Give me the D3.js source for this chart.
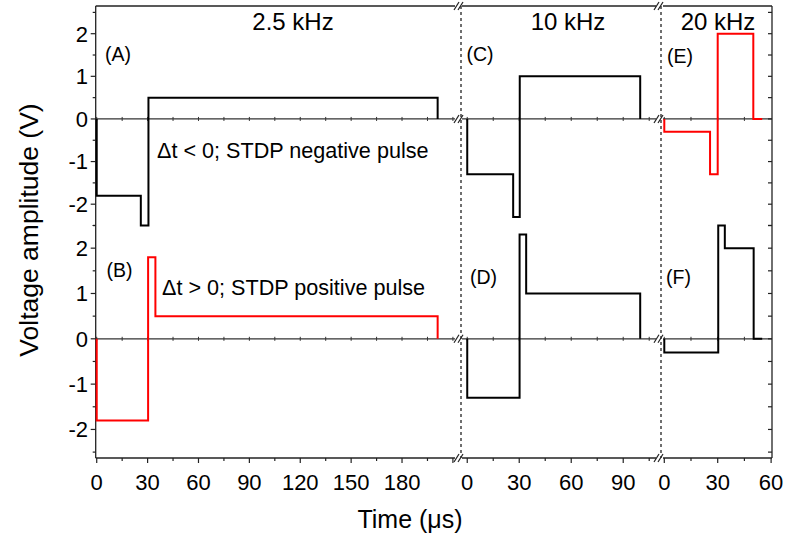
<!DOCTYPE html>
<html>
<head>
<meta charset="utf-8">
<script src="https://cdn.jsdelivr.net/npm/d3@7"></script>
<style>
  html, body { margin: 0; padding: 0; background: #fff; }
  svg { display: block; font-family: "Liberation Sans", Arial, sans-serif; }
</style>
</head>
<body>
<svg id="chart" width="789" height="543"></svg>
<script>
// ---------- data ----------
const segmentTitles = ["2.5 kHz", "10 kHz", "20 kHz"];
const xTicks1 = [0, 30, 60, 90, 120, 150, 180];
const xTicks2 = [0, 30, 60, 90];
const xTicks3 = [0, 30, 60];
const yTicks = [-2, -1, 0, 1, 2];
const panelLabels = ["(A)", "(B)", "(C)", "(D)", "(E)", "(F)"];
const noteNegative = "\u0394t < 0; STDP negative pulse";
const notePositive = "\u0394t > 0; STDP positive pulse";

// waveforms: time (µs) and voltage (V) at each step (step-after)
const timeA = [0, 0, 26, 30.5, 201];
const voltA = [0, -1.8, -2.5, 0.5, 0];
const timeB = [0, 0, 30.3, 34.6, 201];
const voltB = [0, -1.8, 1.8, 0.5, 0];
const timeC = [0, 0, 26.5, 30.3, 99.8];
const voltC = [0, -1.3, -2.3, 1.0, 0];
const timeD = [0, 0, 30.2, 34, 99.8];
const voltD = [0, -1.3, 2.3, 1.0, 0];
const timeE = [0, 0, 25.7, 30, 50, 55];
const voltE = [0, -0.3, -1.3, 2.0, 0, 0];
const timeF = [0, 0, 30.3, 34, 50.2, 55];
const voltF = [0, -0.3, 2.5, 2.0, 0, 0];

(function () {
// ---------- layout ----------
const svg = d3.select("#chart");
const pLeft = 95.7, pRight = 772, pTop = 6, pMid = 225.5, pBottom = 458;
const black = "#000", red = "#ff0000";

const xs = [
  d3.scaleLinear().domain([-0.6, 213]).range([pLeft, 458]),
  d3.scaleLinear().domain([-3.6, 111.8]).range([461, 661]),
  d3.scaleLinear().domain([-1.85, 60.5]).range([661, pRight])
];
const xTickSets = [xTicks1, xTicks2, xTicks3];
const yUp = d3.scaleLinear().domain([-2.5, 2.65]).range([pMid, pTop]);
const yLo = d3.scaleLinear().domain([-2.63, 2.5]).range([pBottom, pMid]);

const g = svg.append("g");

// dotted break lines
[461, 661].forEach(x => {
  g.append("line").attr("x1", x).attr("x2", x).attr("y1", pTop).attr("y2", pBottom)
    .attr("stroke", "#333").attr("stroke-width", 1.4).attr("stroke-dasharray", "3,3");
});

// zero lines per segment with ticks
const segEnds = [[pLeft, 455], [462, 656], [663, pRight]];
[yUp, yLo].forEach(ys => {
  const y0 = ys(0);
  segEnds.forEach(([a, b], i) => {
    g.append("line").attr("x1", a).attr("x2", b).attr("y1", y0).attr("y2", y0)
      .attr("stroke", "#333").attr("stroke-width", 1.2);
    const dom = xs[i].domain();
    d3.range(0, dom[1] + 0.01, 15).forEach(t => {
      const x = xs[i](t);
      if (x > b - 1) return;
      g.append("line").attr("x1", x).attr("x2", x).attr("y1", y0 - 2).attr("y2", y0 + 2)
        .attr("stroke", "#333").attr("stroke-width", 1);
    });
  });
});

// frame: top line segments, bottom axis segments
segEnds.forEach(([a, b]) => {
  g.append("line").attr("x1", a).attr("x2", b).attr("y1", pTop).attr("y2", pTop)
    .attr("stroke", "#222").attr("stroke-width", 1.3);
  g.append("line").attr("x1", a).attr("x2", b).attr("y1", pBottom).attr("y2", pBottom)
    .attr("stroke", "#222").attr("stroke-width", 1.3);
});
// left and right axes
g.append("line").attr("x1", pLeft).attr("x2", pLeft).attr("y1", pTop).attr("y2", pBottom)
  .attr("stroke", "#222").attr("stroke-width", 1.3);
g.append("line").attr("x1", pRight).attr("x2", pRight).attr("y1", pTop).attr("y2", pBottom)
  .attr("stroke", "#222").attr("stroke-width", 1.3);

// break marks "//"
function breakMark(x, y) {
  [-2, 2].forEach(dx => {
    g.append("line").attr("x1", x + dx - 2.5).attr("y1", y + 4).attr("x2", x + dx + 2.5).attr("y2", y - 4)
      .attr("stroke", "#222").attr("stroke-width", 1.2);
  });
}
[458.5, 658.5].forEach(x => {
  [pTop, yUp(0), yLo(0), pBottom].forEach(y => breakMark(x, y));
});

// y axes ticks (left outward, right inward) for both panels
[yUp, yLo].forEach(ys => {
  const dom = ys.domain();
  d3.range(-2.5, 2.51, 0.5).forEach(v => {
    if (v < dom[0] - 0.01 || v > dom[1] + 0.01) return;
    const y = ys(v);
    const major = Number.isInteger(v);
    g.append("line").attr("x1", pLeft - (major ? 5 : 3)).attr("x2", pLeft).attr("y1", y).attr("y2", y)
      .attr("stroke", "#222").attr("stroke-width", 1.2);
    g.append("line").attr("x1", pRight - 4).attr("x2", pRight).attr("y1", y).attr("y2", y)
      .attr("stroke", "#222").attr("stroke-width", 1.2);
  });
  yTicks.forEach(v => {
    g.append("text").attr("x", 88).attr("y", ys(v)).attr("dy", "0.36em")
      .attr("text-anchor", "end").attr("font-size", 22).attr("fill", "#000").text(v);
  });
});

// x axis ticks and labels
xs.forEach((xsc, i) => {
  const dom = xsc.domain();
  d3.range(0, dom[1] + 0.01, 15).forEach(t => {
    const x = xsc(t);
    const major = t % 30 === 0;
    g.append("line").attr("x1", x).attr("x2", x).attr("y1", pBottom).attr("y2", pBottom + (major ? 5 : 3))
      .attr("stroke", "#222").attr("stroke-width", 1.2);
  });
  xTickSets[i].forEach(t => {
    g.append("text").attr("x", xsc(t)).attr("y", 490).attr("text-anchor", "middle")
      .attr("font-size", 22).attr("fill", "#000").text(t);
  });
});

// waveforms
const waves = [
  [timeA, voltA, 0, yUp, black],
  [timeB, voltB, 0, yLo, red],
  [timeC, voltC, 1, yUp, black],
  [timeD, voltD, 1, yLo, black],
  [timeE, voltE, 2, yUp, red],
  [timeF, voltF, 2, yLo, black]
];
waves.forEach(([ts, vs, si, ys, col]) => {
  const pts = ts.map((t, k) => [t, vs[k]]);
  const line = d3.line().x(d => xs[si](d[0])).y(d => ys(d[1])).curve(d3.curveStepAfter);
  g.append("path").attr("d", line(pts)).attr("fill", "none").attr("stroke", col)
    .attr("stroke-width", 2).attr("stroke-linejoin", "miter");
});

// segment titles
const titleX = [293, 568, 718];
segmentTitles.forEach((s, i) => {
  g.append("text").attr("x", titleX[i]).attr("y", 30).attr("text-anchor", "middle")
    .attr("font-size", 24).attr("fill", "#000").text(s);
});

// panel labels
const labelPos = [[105, 61], [106.5, 277], [466.5, 61], [470, 284], [667, 63], [666, 284]];
panelLabels.forEach((s, i) => {
  g.append("text").attr("x", labelPos[i][0]).attr("y", labelPos[i][1])
    .attr("font-size", 19.5).attr("fill", "#000").text(s);
});

// notes
g.append("text").attr("x", 157).attr("y", 158).attr("font-size", 21.6).attr("fill", "#000").text(noteNegative);
g.append("text").attr("x", 162).attr("y", 295).attr("font-size", 21.6).attr("fill", "#000").text(notePositive);

// axis titles
svg.append("text").attr("x", 410).attr("y", 528).attr("text-anchor", "middle")
  .attr("font-size", 25).attr("fill", "#000").text("Time (\u03bcs)");
svg.append("text").attr("transform", "translate(38,230) rotate(-90)").attr("text-anchor", "middle")
  .attr("font-size", 26.5).attr("fill", "#000").text("Voltage amplitude (V)");
})();
</script>
</body>
</html>
